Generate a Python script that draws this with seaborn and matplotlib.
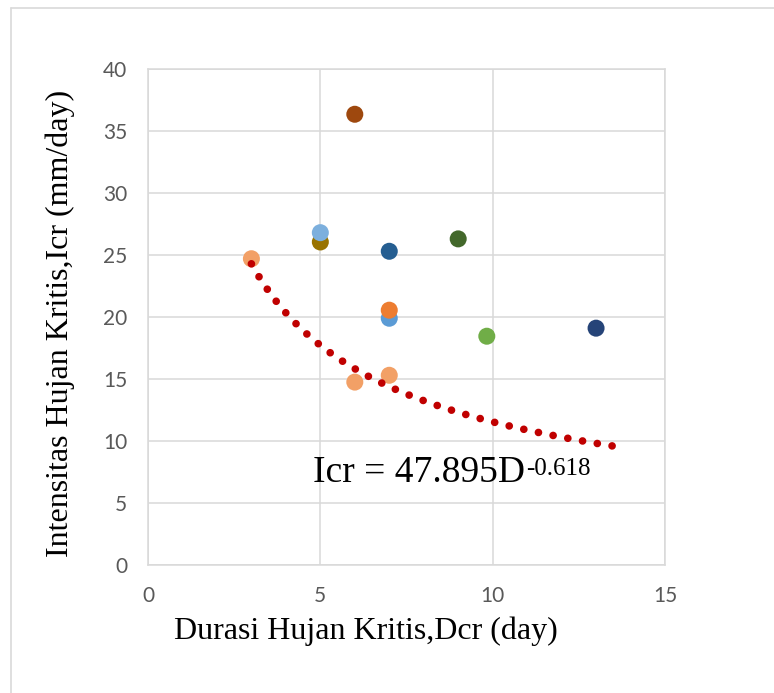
import numpy as np
import pandas as pd
import matplotlib
matplotlib.use("Agg")
import matplotlib.pyplot as plt
from matplotlib.lines import Line2D
import seaborn as sns

# ---- data ----
series = ["S1", "S2", "S3", "S4", "S5", "S6", "S7", "S8", "S9", "S10", "S11", "S12"]
dcr = [3.0, 5.0, 5.0, 6.0, 7.0, 9.0, 7.0, 7.0, 9.83, 13.0, 6.0, 7.0]
icr = [24.7, 26.05, 26.8, 36.35, 25.3, 26.3, 19.9, 20.55, 18.45, 19.1, 14.75, 15.3]
colors = ["#F2A066", "#997300", "#7CAFDD", "#9E480E", "#255E91", "#43682B",
          "#5B9BD5", "#ED7D31", "#70AD47", "#264478", "#F2A066", "#F2A066"]

# power trendline printed on the chart: Icr = a * D^b
trend_a = 47.895
trend_b = -0.618
trend_start, trend_end = 3.0, 13.55

xticks = [0, 5, 10, 15]
yticks = [0, 5, 10, 15, 20, 25, 30, 35, 40]
xlabel = "Durasi Hujan Kritis,Dcr (day)"
ylabel = "Intensitas Hujan Kritis,Icr (mm/day)"
eq_main = "Icr = 47.895D"
eq_sup = "-0.618"

df = pd.DataFrame({"series": series, "Dcr": dcr, "Icr": icr})
td = np.linspace(trend_start, trend_end, 200)
trend = pd.DataFrame({"D": td, "I": trend_a * td ** trend_b})

sns.set_theme(style="white")

fig = plt.figure(figsize=(7.74, 6.93), dpi=100)
ax = fig.add_axes([148 / 774, 1 - 565 / 693, 517 / 774, 496 / 693])

sns.scatterplot(data=df, x="Dcr", y="Icr", hue="series", palette=colors,
                s=150, linewidth=0, legend=False, ax=ax, zorder=3)
sns.lineplot(data=trend, x="D", y="I", ax=ax, color="#C00000", linewidth=5.5,
             linestyle=(0, (0.01, 1.95)), dash_capstyle="round", zorder=4)

ax.set_xlim(0, 15)
ax.set_ylim(0, 40)
ax.set_xticks(xticks)
ax.set_yticks(yticks)
ax.grid(True, color="#D9D9D9", linewidth=1.1)
ax.set_axisbelow(True)
for sp in ax.spines.values():
    sp.set_visible(True)
    sp.set_color("#D9D9D9")
    sp.set_linewidth(1.1)
ax.tick_params(axis="both", length=0, labelsize=15, labelcolor="#595959")
ax.tick_params(axis="x", pad=15)
ax.tick_params(axis="y", pad=15)
for lab in ax.get_xticklabels() + ax.get_yticklabels():
    lab.set_fontfamily("Lato")

ax.set_xlabel(xlabel, fontsize=23, family="Liberation Serif", color="black")
ax.set_ylabel(ylabel, fontsize=23, family="Liberation Serif", color="black")
ax.xaxis.label.set_va("baseline")
ax.yaxis.label.set_va("baseline")
ax.xaxis.set_label_coords((366 - 148) / 517, (565 - 639) / 496)
ax.yaxis.set_label_coords((68 - 148) / 517, (565 - 323) / 496)

t_main = ax.text((313 - 148) / 517 * 15, (565 - 482) / 496 * 40, eq_main,
                 fontsize=27, family="Liberation Serif", color="black",
                 ha="left", va="baseline")
ax.annotate(eq_sup, xy=(1.0, 0.93), xycoords=t_main, xytext=(1, 0),
            textcoords="offset points", fontsize=18, family="Liberation Serif",
            color="black", ha="left", va="top")

# outer chart-area border (light grey, only top and left visible)
fig.add_artist(Line2D([11 / 774, 1], [1 - 8 / 693, 1 - 8 / 693],
                      transform=fig.transFigure, color="#D9D9D9", linewidth=1.2))
fig.add_artist(Line2D([11 / 774, 11 / 774], [0, 1 - 8 / 693],
                      transform=fig.transFigure, color="#D9D9D9", linewidth=1.2))

fig.savefig("out.png", dpi=100)
